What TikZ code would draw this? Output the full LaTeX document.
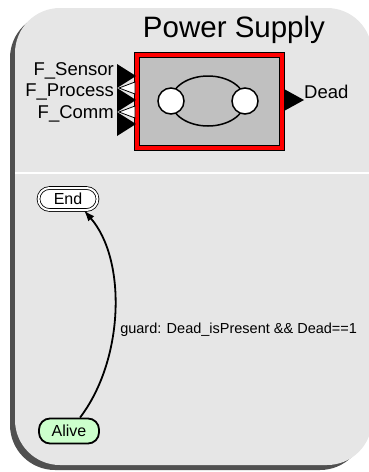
\documentclass[tikz,border=0pt]{standalone}
\usepackage{fontspec}
\setmainfont{Liberation Sans}
\usetikzlibrary{arrows.meta, shapes, backgrounds, calc, positioning}
\tikzset{> = { Latex[length = 11pt, width = 8pt] }}
\definecolor{panelgray}{HTML}{E6E6E6}
\definecolor{shadowgray}{HTML}{505050}
\definecolor{boxgray}{HTML}{C0C0C0}
\definecolor{alivegreen}{HTML}{CCFFCC}

\begin{document}
\begin{tikzpicture}[x = 1pt, y = -1pt,
		state/.style = {draw, rounded corners = 11pt, inner sep = 0pt, font = \fontsize{16}{17}\selectfont},
		port/.style = {anchor = base east, inner sep = 0pt, font = \fontsize{18.5}{20}\selectfont},
		hole/.style = {circle, draw, fill = white, line width = 1.5pt, minimum size = 26pt, inner sep = 0pt}]
		\useasboundingbox (0, 0) rectangle (369, 472);

		% panel and its shadow
		\fill [shadowgray, rounded corners = 45pt] (10, 13) rectangle (365, 470);
		\fill [panelgray, rounded corners = 45pt] (15, 8) rectangle (372, 465);
		\draw [white, line width = 2pt] (15, 173) -- (369, 173);

		% component block
		\node [anchor = base, inner sep = 0pt, font = \fontsize{29.5}{31}\selectfont] (title) at (234, 37) {Power Supply};
		\draw [fill = red, line width = 1pt] (134, 52) rectangle (284, 150);
		\draw [fill = boxgray, line width = 1pt] (139, 57) rectangle (279, 145);
		\draw [line width = 1.5pt] (208, 101) ellipse [x radius = 37, y radius = 25];
		\node [hole] (src) at (171, 101) {};
		\node [hole] (dst) at (245, 101) {};

		% ports
		\foreach \y in {76, 100, 124}
			\fill (117, \y - 12) -- (136, \y) -- (117, \y + 12) -- cycle;
		\foreach \y in {88, 112}
			\filldraw [fill = white, line width = 0.8pt] (135, \y - 6) -- (119, \y) -- (135, \y + 6) -- cycle;
		\fill (284, 89) -- (304, 100) -- (284, 111) -- cycle;
		\node [port] (sensor) at (114, 75) {F\_Sensor};
		\node [port] (process) at (114, 96) {F\_Process};
		\node [port] (comm) at (114, 118) {F\_Comm};
		\node [anchor = base west, inner sep = 0pt, font = \fontsize{18.5}{20}\selectfont] (dead) at (304, 98) {Dead};

		% states
		\node [state, double, double distance = 2pt, line width = 0.8pt, fill = white, minimum width = 59pt, minimum height = 22pt] (end) at (68, 199) {End};
		\node [state, line width = 1.8pt, fill = alivegreen, minimum width = 60pt, minimum height = 25pt] (alive) at (69, 431) {Alive};
		\draw [->, line width = 1.8pt] ([xshift = 11pt]alive.north) .. controls (124, 360) and (127, 260) .. node[pos = 0.42, anchor = west, xshift = 6pt, inner sep = 0pt, font = \fontsize{14.5}{16}\selectfont]{guard: Dead\_isPresent \&\& Dead==1} ([xshift = 16pt]end.south);
	\end{tikzpicture}
\end{document}
